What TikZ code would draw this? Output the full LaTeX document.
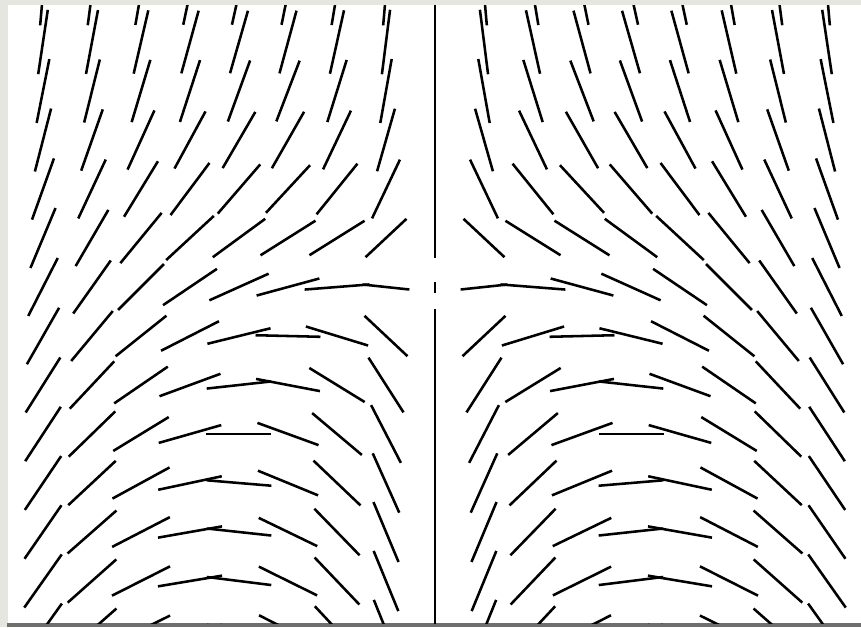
\documentclass[tikz,border=0pt]{standalone}
\usepackage{xcolor}
\definecolor{framegray}{HTML}{E6E6E0}
\definecolor{edgegray}{HTML}{6E6E6E}

\begin{document}
\begin{tikzpicture}[
    x=0.02cm, y=0.02cm,
    dirseg/.style={draw=black, line width=1.45pt},
    window/.style={fill=framegray},
    pane/.style={fill=white}
]

% window frame
\fill[window] (-435,-340) rectangle (426,287);
\fill[pane] (-427,-336) rectangle (426,282);
\fill[edgegray] (-428,-340) rectangle (426,-336);
\useasboundingbox (-435,-340) rectangle (426,287);

\begin{scope}
\clip (-427,-336) rectangle (426,282);

% rows: j / length on x=0 / length at i=1 / angles for i=1..8 (left half)
\foreach \j/\lzero/\lone/\angs in {
    6/65/65/{85,80.5,78.5,77.5,78,80,82.5,85},
    5/65/65/{82.8,77.5,74.8,74,74.6,77,79.4,81.5},
    4/65/65/{79.9,72.7,69,70,72,73.3,76,78.7},
    3/65/65/{74.1,64.6,60.3,59.8,61.5,65.6,70.6,75.6},
    2/65/65/{64.6,51.1,47.2,49.2,53.2,58.6,65,70.3},
    1/40/56/{43.1,32,32.2,36.2,42.8,50.6,59.8,67.3},
    0/11/47/{-6.1,4.5,15.2,24.2,34,45,54.7,63},
    -1/54/59/{-43.2,-17,-1.4,13.8,27,38.6,50.2,60.3},
    -2/65/65/{-57.4,-31.6,-10.8,6.3,20.2,34.4,46.8,57.8},
    -3/65/65/{-62.7,-40.1,-20,0,15.9,31.4,44.2,56.8},
    -4/65/65/{-65.9,-43.6,-22.3,-4.8,12,28.6,43,56},
    -5/65/65/{-67.3,-45.8,-25.8,-6.2,10,27.3,41.3,55.4},
    -6/65/65/{-67.7,-46.4,-26.3,-7.1,9.5,26.8,41.6,54.8},
    -7/65/65/{-68,-47,-27,-9,9,26.5,41.3,54.5}}{
  % the line x = 0
  \draw[dirseg] (0,49*\j) ++(90:-\lzero/2) -- ++(90:\lzero);
  % both halves, right one mirrored
  \foreach \a [count=\i] in \angs {
    \pgfmathsetmacro\len{\i==1 ? \lone : 65}
    \foreach \s in {1,-1}
      \draw[dirseg, xscale=\s] (-49*\i,49*\j) ++(\a:-\len/2) -- ++(\a:\len);
  }
}
\end{scope}

\end{tikzpicture}
\end{document}
